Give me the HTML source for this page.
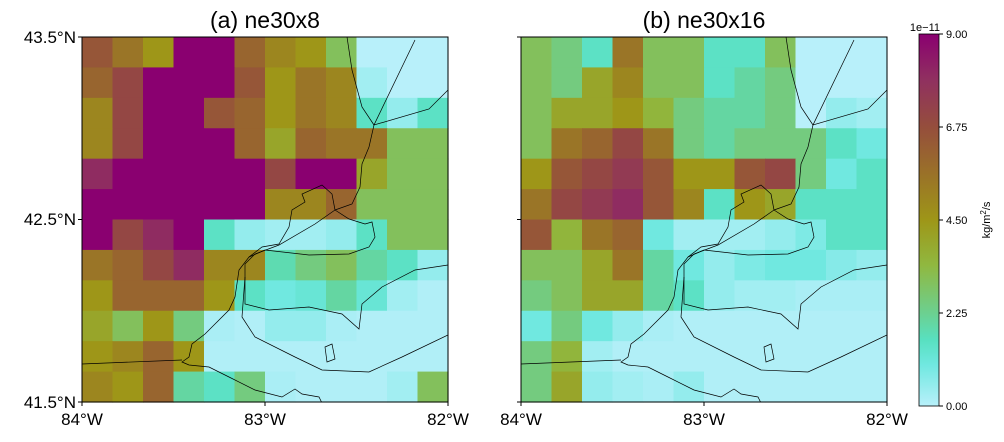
<!DOCTYPE html>
<html><head><meta charset="utf-8">
<style>
body{margin:0;background:#fff;font-family:"Liberation Sans",sans-serif;}
svg text{font-family:"Liberation Sans",sans-serif;}
</style></head>
<body>
<svg id="fig" width="1004" height="437" viewBox="0 0 1004 437" xmlns="http://www.w3.org/2000/svg">
<defs>
<linearGradient id="cbg" x1="0" y1="1" x2="0" y2="0">
<stop offset="0" stop-color="#b8f0fa"/><stop offset="0.111" stop-color="#70e8e0"/>
<stop offset="0.178" stop-color="#58e0c0"/><stop offset="0.25" stop-color="#6cd090"/>
<stop offset="0.378" stop-color="#90b840"/><stop offset="0.5" stop-color="#9e9618"/>
<stop offset="0.622" stop-color="#9a7228"/><stop offset="0.75" stop-color="#954e3c"/>
<stop offset="0.878" stop-color="#903060"/><stop offset="1" stop-color="#8a0070"/>
</linearGradient>
<clipPath id="clipA"><rect x="0" y="0" width="366" height="365"/></clipPath>
</defs>
<g id="panelA" transform="translate(82,37)"></g>
<g id="panelB" transform="translate(521,37)"></g>
<text x="265" y="28" font-size="23" text-anchor="middle">(a) ne30x8</text>
<text x="704" y="28" font-size="23" text-anchor="middle">(b) ne30x16</text>
<g font-size="17">
<text x="76" y="43" text-anchor="end">43.5°N</text>
<text x="76" y="225" text-anchor="end">42.5°N</text>
<text x="76" y="408" text-anchor="end">41.5°N</text>
</g>
<g font-size="17" text-anchor="middle">
<text x="82" y="425">84°W</text><text x="265" y="425">83°W</text><text x="448" y="425">82°W</text>
<text x="521" y="425">84°W</text><text x="704" y="425">83°W</text><text x="887" y="425">82°W</text>
</g>
<g>
<rect x="919" y="34" width="20" height="372" fill="url(#cbg)" stroke="#000" stroke-width="0.8"/>
<g font-size="11">
<line x1="939" y1="34" x2="943" y2="34" stroke="#000"/><text x="946" y="38">9.00</text>
<line x1="939" y1="127" x2="943" y2="127" stroke="#000"/><text x="946" y="131">6.75</text>
<line x1="939" y1="220" x2="943" y2="220" stroke="#000"/><text x="946" y="224">4.50</text>
<line x1="939" y1="313" x2="943" y2="313" stroke="#000"/><text x="946" y="317">2.25</text>
<line x1="939" y1="406" x2="943" y2="406" stroke="#000"/><text x="946" y="410">0.00</text>
</g>
<text x="940" y="31" font-size="11" text-anchor="end">1e−11</text>
<text transform="translate(990,220) rotate(-90)" font-size="11" text-anchor="middle">kg/m<tspan font-size="8" dy="-4">2</tspan><tspan dy="4">/s</tspan></text>
</g>
</svg>
<script>
const valuesA = [
[6.5,5.5,4.5,9,9,6,5,4.5,3,0,0,0],
[6,7,9,9,9,6.5,4.5,5.5,5,0.3,0,0],
[5,7,9,9,6.5,6,4.5,5.5,5,1.5,0.5,1.5],
[5,7,9,9,9,6,4,6,5.5,5.5,3,3],
[8,9,9,9,9,9,7,9,9,4,3,3],
[9,9,9,9,9,9,5,5,6,3,3,3],
[9,7,8,9,1.5,0.5,0.3,0.3,0.5,1.5,3,3],
[5.5,6,7,8,5,5,1.8,2.5,3,2,1.5,0.5],
[4.5,6,6,6,4.5,1.5,1,1.2,2,1.2,0.3,0.1],
[4,3,4.5,2.5,0.2,0.1,0.5,0.5,0.2,0.1,0.1,0.1],
[4.5,5,6,4.5,0.1,0.1,0.1,0.1,0.1,0.1,0.1,0.1],
[5,4.5,6,2,1.5,2.5,0.2,0.1,0.1,0.1,0.3,3]
];
const valuesB = [
[3,2.5,1.5,5.5,3,3,1.5,1.5,3,0,0,0],
[3,2.5,4,5,3,3,1.5,2,2.5,0,0,0],
[3,4,4,4.5,3.5,2.5,2,2,2.5,0,0.5,0.3],
[3,5.5,6,7,5.5,2.5,2,2.5,2.5,2.5,1.5,1],
[4.5,6.5,7,7.5,6.5,4.5,4.5,6.5,7,2.5,1,1.5],
[5.5,7,7.5,8,6.5,5,1.5,4.5,4,1.5,1.5,1.5],
[6.5,3.5,5.5,6,1,0.3,0.3,0.3,0.5,0.8,1.5,1.5],
[3,3,4,5.5,2,1,0.5,0.8,1,1,0.7,0.5],
[2.5,3,4,4,2,1.5,0.5,0.3,0.3,0.2,0.2,0.2],
[1,2.5,1,0.5,0.2,0.1,0.1,0.1,0.1,0.1,0.1,0.1],
[2.5,3.5,0.3,0.1,0.1,0.1,0.1,0.1,0.1,0.1,0.1,0.1],
[2.5,4,0.5,0.3,0.2,0.5,0.1,0.1,0.1,0.1,0.1,0.1]
];
const cmapVals = [0,1,1.6,2.25,3.4,4.5,5.6,6.75,7.9,9];
const cmapCols = ["#b8f0fa","#70e8e0","#58e0c0","#6cd090","#90b840","#9e9618","#9a7228","#954e3c","#903060","#8a0070"];
function hex(c){return [1,3,5].map(i=>parseInt(c.substr(i,2),16));}
function color(v){
  v=Math.max(0,Math.min(9,v));
  for(let i=0;i<cmapVals.length-1;i++){
    if(v<=cmapVals[i+1]){
      const t=(v-cmapVals[i])/(cmapVals[i+1]-cmapVals[i]);
      const a=hex(cmapCols[i]),b=hex(cmapCols[i+1]);
      return 'rgb('+a.map((x,k)=>Math.round(x+(b[k]-x)*t)).join(',')+')';
    }
  }
  return cmapCols[cmapCols.length-1];
}
const NS='http://www.w3.org/2000/svg';
const W=366,H=365;
const coast=[
"M265,0 L270,33 L280,70 L292,88 L287,110 L280,127 L278,150 L270,167 L253,173",
"M253,173 L250,157 L240,148 L220,157 L223,165 L210,173 L207,190 L197,207 L180,210 L167,220 L157,233 L153,260 L147,273 L133,287 L123,297 L110,307 L107,320 L100,325 L107,328 L127,330 L147,340 L173,353 L200,360 L213,352 L220,357 L237,360 L240,366",
"M167,220 L183,213 L227,218 L267,217 L287,210 L293,200 L290,185 L283,187 L267,182 L253,173",
"M253,173 L233,187 L197,208 L173,217 L163,227 L163,267 L187,273 L227,270 L260,277 L277,292 L280,267 L300,250 L333,233 L366,228",
"M163,240 L160,280 L173,300 L213,320 L240,333 L287,335 L320,320 L366,298",
"M243,310 L250,307 L253,322 L245,325 Z",
"M0,327 L100,323",
"M333,3 L292,88 L347,72 L366,53"
];
function drawPanel(gid,vals,pname){
  const g=document.getElementById(gid);
  const rows=vals.length, cols=vals[0].length;
  const cw=W/cols, ch=H/rows;
  const cells=document.createElementNS(NS,'g');
  
  
  g.appendChild(cells);
  vals.forEach((row,r)=>row.forEach((v,c)=>{
    const rc=document.createElementNS(NS,'rect');
    rc.setAttribute('x',(c*cw).toFixed(2));rc.setAttribute('y',(r*ch).toFixed(2));
    rc.setAttribute('width',(cw+0.6).toFixed(2));rc.setAttribute('height',(ch+0.6).toFixed(2));
    rc.setAttribute('fill',color(v));
    
    
    cells.appendChild(rc);
  }));
  const lines=document.createElementNS(NS,'g');
  lines.setAttribute('clip-path','url(#clipA)');
  
  
  coast.forEach(d=>{
    const p=document.createElementNS(NS,'path');
    p.setAttribute('d',d);p.setAttribute('fill','none');p.setAttribute('stroke','#000');p.setAttribute('stroke-width','0.7');
    
    
    lines.appendChild(p);
  });
  g.appendChild(lines);
  const fr=document.createElementNS(NS,'rect');
  fr.setAttribute('x',0);fr.setAttribute('y',0);fr.setAttribute('width',W);fr.setAttribute('height',H);
  fr.setAttribute('fill','none');fr.setAttribute('stroke','#000');fr.setAttribute('stroke-width','1');
  
  
  g.appendChild(fr);
  [0,H/2,H].forEach(y=>{const t=document.createElementNS(NS,'line');t.setAttribute('x1',-4);t.setAttribute('x2',0);t.setAttribute('y1',y);t.setAttribute('y2',y);t.setAttribute('stroke','#000');
    
    
    g.appendChild(t);});
  [0,W/2,W].forEach(x=>{const t=document.createElementNS(NS,'line');t.setAttribute('x1',x);t.setAttribute('x2',x);t.setAttribute('y1',H);t.setAttribute('y2',H+4);t.setAttribute('stroke','#000');
    
    
    g.appendChild(t);});
}
drawPanel('panelA',valuesA,'panel-a');
drawPanel('panelB',valuesB,'panel-b');
</script>
</body></html>
